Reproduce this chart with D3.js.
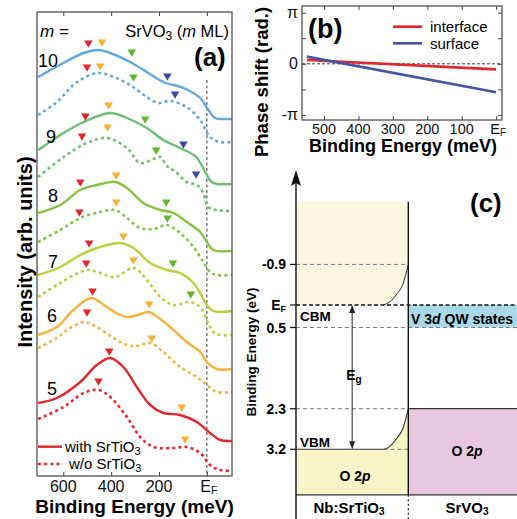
<!DOCTYPE html>
<html>
<head>
<meta charset="utf-8">
<script src="https://cdn.jsdelivr.net/npm/d3@7"></script>
<style>
  body { margin: 0; background: #fff; }
  svg { display: block; font-family: "Liberation Sans", Arial, Helvetica, sans-serif; }
</style>
</head>
<body>
<svg id="fig" width="517" height="519"></svg>
<script>
// ---------- data: panel (a), spectra [binding energy meV, intensity arb.u.] ----------
const layers = [10, 9, 8, 7, 6, 5];
const withSTO = [
  [[705,39.9],[600,41.3],[515,42.3],[453,42.6],[404,42.3],[321,41.4],[251,40.4],[182,39.4],[98,38.8],[28,37.8],[-6,36.6],[-34,35.8],[-60,35.7],[-104,35.7]],
  [[705,32.6],[599,34.3],[515,35.4],[404,36.3],[334,35.8],[251,34.8],[182,33.6],[112,32.8],[45,31.9],[5,30.3],[-20,29.4],[-45,29.2],[-104,29.2]],
  [[705,26.3],[613,27.1],[529,28.6],[460,29.1],[383,29.4],[334,28.8],[265,27.3],[195,26.6],[140,26.3],[84,25.4],[28,24.4],[0,23.4],[-27,22.6],[-104,22.5]],
  [[705,20.1],[613,20.9],[529,22.1],[460,22.8],[362,23.3],[307,22.8],[237,21.3],[167,20.6],[112,20.3],[56,19.3],[28,18.3],[0,17.1],[-27,16.5],[-104,16.5]],
  [[705,14.1],[627,14.9],[558,16.6],[482,17.8],[419,16.9],[363,16.1],[330,15.9],[290,16.1],[244,16.4],[200,15.8],[154,14.9],[84,13.4],[28,12.4],[0,11.4],[-41,10.7],[-104,10.7]],
  [[705,7.3],[627,7.8],[529,9.4],[460,11.1],[404,11.8],[349,10.9],[293,8.9],[237,7.1],[182,6.3],[112,6.1],[42,5.4],[-13,4.3],[-55,3.6],[-104,3.5]]
];
const withoutSTO = [
  [[705,36.1],[627,37.4],[543,39.4],[453,40.3],[390,39.9],[321,39.1],[251,37.9],[203,37.3],[154,37.5],[84,36.9],[28,35.6],[-13,33.9],[-55,33.4],[-104,33.4]],
  [[705,29.9],[599,31.9],[501,33.3],[418,33.8],[334,32.8],[279,31.3],[223,31.7],[195,31.9],[167,31.0],[130,30.4],[84,29.4],[42,29.1],[15,28.3],[-6,26.9],[-41,26.6],[-104,26.5]],
  [[705,23.4],[613,24.6],[529,25.8],[446,26.4],[383,26.6],[334,25.8],[279,24.8],[223,24.7],[167,25.1],[112,24.3],[56,22.9],[15,21.4],[-13,20.4],[-41,20.1],[-104,20.1]],
  [[705,17.9],[613,19.3],[501,20.6],[446,20.3],[383,19.9],[307,20.8],[251,19.6],[195,17.9],[140,17.1],[70,17.4],[28,16.9],[0,15.6],[-27,14.4],[-55,14.1],[-104,14.1]],
  [[705,12.8],[627,13.8],[572,14.8],[508,15.4],[461,14.9],[390,13.8],[334,13.1],[293,13.0],[237,13.3],[182,12.4],[112,10.9],[42,9.9],[0,9.1],[-41,8.4],[-104,8.4]],
  [[705,5.7],[599,6.9],[515,8.3],[453,8.6],[404,7.9],[334,5.9],[279,3.9],[223,2.9],[140,2.8],[84,2.9],[28,2.3],[-13,1.1],[-55,0.6],[-104,0.5]]
];
// peak markers [kind, energy, intensity]
const marksWith = [
  [["r",495,43.2],["o",439,43.3],["g",314,42.3],["b",165,39.9]],
  [["r",508,35.9],["o",411,37.0],["g",258,35.6],["b",98,33.1]],
  [["r",529,29.3],["o",379,30.0],["g",170,27.3]],
  [["r",492,23.2],["o",349,23.9],["g",142,21.2]],
  [["r",478,18.4],["o",241,17.1]],
  [["r",408,12.4],["o",105,6.8]]
];
const marksWithout = [
  [["r",501,40.8],["o",446,40.9],["g",307,39.8],["b",133,38.1]],
  [["r",522,33.9],["o",415,34.8],["g",212,32.5],["b",45,30.1]],
  [["r",533,26.3],["o",379,27.3],["g",165,25.7]],
  [["r",504,21.2],["o",307,21.5],["g",67,18.1]],
  [["r",501,16.3],["o",230,13.7]],
  [["r",453,9.4],["o",91,3.6]]
];
const energyTicksA = [600, 400, 200, 0];
const energyLabelsA = ["600", "400", "200", "EF"];

// ---------- data: panel (b) ----------
const phaseEnergy = [550, 0];
const interfacePhase = [0.23, -0.34];
const surfacePhase = [0.44, -1.75];
const energyTicksB = [500, 400, 300, 200, 100, 0];
const energyLabelsB = ["500", "400", "300", "200", "100", "EF"];
const phaseTicks = [-Math.PI, -Math.PI / 2, 0, Math.PI / 2, Math.PI];
const phaseLabels = ["-π", "", "0", "", "π"];

// ---------- data: panel (c), band diagram (eV) ----------
const levelTicks = [-0.9, 0, 0.5, 2.3, 3.2];
const levelLabels = ["-0.9", "EF", "0.5", "2.3", "3.2"];
const cbBend = [[0, 0], [0.78, 0], [0.85, -0.1], [0.9, -0.25], [0.95, -0.45], [1, -0.9]];
const vbBend = [[0, 3.2], [0.78, 3.2], [0.85, 3.1], [0.9, 2.95], [0.95, 2.75], [1, 2.3]];
const qwBand = [0, 0.5];
const o2pTop = 2.3;

// ---------- styles ----------
const lineColors = ["#62a8dc", "#6dbf71", "#84c341", "#bacf3b", "#f6b23c", "#e3262b"];
const markColors = { r: "#e3262b", o: "#f8b133", g: "#5db82e", b: "#3b4a9c" };
const svg = d3.select("#fig");

// text with sub / italic parts (sub = [font size, drop])
function rich(g, x, y, parts) {
  const t = g.append("text").attr("x", x).attr("y", y);
  let shift = 0;
  parts.forEach(p => {
    const s = typeof p === "string" ? { t: p } : p;
    const ts = t.append("tspan").text(s.t);
    const drop = s.sub ? s.sub[1] : 0;
    if (drop !== shift) { ts.attr("dy", drop - shift); shift = drop; }
    if (s.sub) ts.attr("font-size", s.sub[0]);
    if (s.it) ts.attr("font-style", "italic");
  });
  return t;
}
function ef(label, sub) {
  return label === "EF" ? ["E", { t: "F", sub: sub }] : [label];
}

// ================= panel (a) =================
const xA = d3.scaleLinear().domain([710, -105]).range([37, 232]);
const yA = d3.scaleLinear().domain([0, 46.4]).range([476, 12]);
const pa = svg.append("g");

pa.append("line")
  .attr("x1", xA(0)).attr("x2", xA(0))
  .attr("y1", 80).attr("y2", 476)
  .attr("stroke", "#222").attr("stroke-width", 0.9).attr("stroke-dasharray", "3,2.5");

const lineA = d3.line()
  .x(d => xA(d[0])).y(d => yA(d[1]))
  .curve(d3.curveCatmullRom.alpha(0.5));

layers.forEach((m, i) => {
  pa.append("path").attr("d", lineA(withoutSTO[i]))
    .attr("fill", "none").attr("stroke", lineColors[i])
    .attr("stroke-width", 2.6).attr("stroke-dasharray", "3,3.2");
  pa.append("path").attr("d", lineA(withSTO[i]))
    .attr("fill", "none").attr("stroke", lineColors[i])
    .attr("stroke-width", 2.4);
});

// downward triangles
const tri = (d) => {
  const x = xA(d[1]), y = yA(d[2]);
  return `M${x - 4.3},${y - 3.6}L${x + 4.3},${y - 3.6}L${x},${y + 3.8}Z`;
};
marksWith.concat(marksWithout).forEach(list => {
  pa.selectAll(null).data(list).enter().append("path")
    .attr("d", tri).attr("fill", d => markColors[d[0]]);
});

pa.append("rect").attr("x", 37).attr("y", 12).attr("width", 195).attr("height", 464)
  .attr("fill", "none").attr("stroke", "#444").attr("stroke-width", 1.2);

pa.append("g").attr("transform", "translate(0,476)")
  .call(d3.axisBottom(xA).tickValues(energyTicksA).tickSize(-4).tickSizeOuter(0).tickFormat(""))
  .call(g => g.select(".domain").remove())
  .selectAll("line").attr("stroke", "#444");
pa.append("g").attr("transform", "translate(0,12)")
  .call(d3.axisTop(xA).tickValues(energyTicksA).tickSize(-4).tickSizeOuter(0).tickFormat(""))
  .call(g => g.select(".domain").remove())
  .selectAll("line").attr("stroke", "#444");

energyTicksA.forEach((v, i) => {
  rich(pa, xA(v) + (i === 3 ? 2 : 0), 491.5, ef(energyLabelsA[i], [10.5, 2]))
    .attr("text-anchor", "middle").attr("font-size", 16).attr("fill", "#111");
});

pa.append("text").attr("x", 134.5).attr("y", 512.5)
  .attr("text-anchor", "middle").attr("font-size", 19).attr("font-weight", "bold")
  .text("Binding Energy (meV)");
pa.append("text").attr("transform", "translate(32,252) rotate(-90)")
  .attr("text-anchor", "middle").attr("font-size", 20).attr("font-weight", "bold")
  .text("Intensity (arb. units)");

rich(pa, 40, 37, [{ t: "m", it: true }, " ="]).attr("font-size", 17);
rich(pa, 229, 37, ["SrVO", { t: "3", sub: [12, 3] }, " (", { t: "m", it: true }, " ML)"])
  .attr("font-size", 16.5).attr("text-anchor", "end");
pa.append("text").attr("x", 194).attr("y", 66)
  .attr("font-size", 26).attr("font-weight", "bold").text("(a)");

const mLabelX = [38, 46, 48, 48, 47, 47];
const mLabelY = [66.7, 143.3, 201.7, 268, 321.7, 395];
layers.forEach((m, i) => {
  pa.append("text").attr("x", mLabelX[i]).attr("y", mLabelY[i])
    .attr("font-size", 18).text(m);
});

// legend
pa.append("line").attr("x1", 38).attr("x2", 62).attr("y1", 446.7).attr("y2", 446.7)
  .attr("stroke", lineColors[5]).attr("stroke-width", 2.4);
pa.append("line").attr("x1", 38).attr("x2", 63).attr("y1", 464).attr("y2", 464)
  .attr("stroke", lineColors[5]).attr("stroke-width", 2.6).attr("stroke-dasharray", "3,3.2");
rich(pa, 65, 451.5, ["with SrTiO", { t: "3", sub: [11, 3] }]).attr("font-size", 15);
rich(pa, 69, 468.5, ["w/o SrTiO", { t: "3", sub: [11, 3] }]).attr("font-size", 15);

// ================= panel (b) =================
const xB = d3.scaleLinear().domain([564, -17]).range([302, 502]);
const yB = d3.scaleLinear().domain([-3.45, 3.55]).range([120, 6]);
const pb = svg.append("g");

pb.append("line").attr("x1", 302).attr("x2", 502).attr("y1", yB(0)).attr("y2", yB(0))
  .attr("stroke", "#222").attr("stroke-width", 0.9).attr("stroke-dasharray", "3,2");

const lineB = d3.line().x(d => xB(d[0])).y(d => yB(d[1]));
pb.append("path").attr("d", lineB(phaseEnergy.map((e, i) => [e, interfacePhase[i]])))
  .attr("fill", "none").attr("stroke", "#e3262b").attr("stroke-width", 2.6);
pb.append("path").attr("d", lineB(phaseEnergy.map((e, i) => [e, surfacePhase[i]])))
  .attr("fill", "none").attr("stroke", "#4654a0").attr("stroke-width", 2.6);

pb.append("rect").attr("x", 302).attr("y", 6).attr("width", 200).attr("height", 114)
  .attr("fill", "none").attr("stroke", "#444").attr("stroke-width", 1.2);

[[d3.axisBottom(xB), "translate(0,120)", energyTicksB],
 [d3.axisTop(xB), "translate(0,6)", energyTicksB],
 [d3.axisLeft(yB), "translate(302,0)", phaseTicks],
 [d3.axisRight(yB), "translate(502,0)", phaseTicks]].forEach(([ax, tr, vals]) => {
  pb.append("g").attr("transform", tr)
    .call(ax.tickValues(vals).tickSize(-4).tickSizeOuter(0).tickFormat(""))
    .call(g => g.select(".domain").remove())
    .selectAll("line").attr("stroke", "#444");
});

energyTicksB.forEach((v, i) => {
  rich(pb, xB(v) + (i === 5 ? 2 : 0), 133.5, ef(energyLabelsB[i], [10, 2.5]))
    .attr("text-anchor", "middle").attr("font-size", 14.5).attr("fill", "#111");
});
phaseTicks.forEach((v, i) => {
  if (!phaseLabels[i]) return;
  pb.append("text").attr("x", 298).attr("y", yB(v) + 5.5)
    .attr("text-anchor", "end").attr("font-size", 16).attr("fill", "#111")
    .text(phaseLabels[i]);
});

pb.append("text").attr("x", 403).attr("y", 152)
  .attr("text-anchor", "middle").attr("font-size", 18).attr("font-weight", "bold")
  .text("Binding Energy (meV)");
pb.append("text").attr("transform", "translate(268,82) rotate(-90)")
  .attr("text-anchor", "middle").attr("font-size", 18.5).attr("font-weight", "bold")
  .text("Phase shift (rad.)");
pb.append("text").attr("x", 308).attr("y", 38)
  .attr("font-size", 27).attr("font-weight", "bold").text("(b)");

pb.append("line").attr("x1", 393).attr("x2", 422).attr("y1", 26.7).attr("y2", 26.7)
  .attr("stroke", "#e3262b").attr("stroke-width", 2.6);
pb.append("line").attr("x1", 393).attr("x2", 422).attr("y1", 43.3).attr("y2", 43.3)
  .attr("stroke", "#4654a0").attr("stroke-width", 2.6);
pb.append("text").attr("x", 430).attr("y", 31.5).attr("font-size", 15).text("interface");
pb.append("text").attr("x", 430).attr("y", 48.5).attr("font-size", 15).text("surface");

// ================= panel (c) =================
const xC = d3.scaleLinear().domain([0, 2]).range([296, 520.6]);
const yC = d3.scaleLinear().domain([0, 3.2]).range([305, 449.3]);
const topE = -2.29, botE = 4.21;
const pc = svg.append("g");

// fills
pc.append("path")
  .attr("d", d3.area().x(d => xC(d[0])).y0(yC(topE)).y1(d => yC(d[1])).curve(d3.curveMonotoneX)(cbBend))
  .attr("fill", "#fbf6e0");
pc.append("path")
  .attr("d", d3.area().x(d => xC(d[0])).y0(yC(botE)).y1(d => yC(d[1])).curve(d3.curveMonotoneX)(vbBend))
  .attr("fill", "#f7f5c6");
pc.append("rect").attr("x", xC(1)).attr("y", yC(qwBand[0]))
  .attr("width", xC(2) - xC(1)).attr("height", yC(qwBand[1]) - yC(qwBand[0]))
  .attr("fill", "#a9d9e9");
pc.append("rect").attr("x", xC(1)).attr("y", yC(o2pTop))
  .attr("width", xC(2) - xC(1)).attr("height", yC(botE) - yC(o2pTop))
  .attr("fill", "#e8c8df");

// level lines
const hl = (e, a, b, stroke, dash, w) => pc.append("line")
  .attr("x1", xC(a)).attr("x2", xC(b)).attr("y1", yC(e)).attr("y2", yC(e))
  .attr("stroke", stroke).attr("stroke-width", w).attr("stroke-dasharray", dash);
hl(levelTicks[0], 0, 1, "#777", "4,3", 1);
hl(levelTicks[2], 0, 2, "#777", "4,3", 1);
hl(levelTicks[3], 0, 1, "#777", "4,3", 1);
hl(levelTicks[4], 0.78, 1, "#777", "4,3", 1);
hl(levelTicks[1], 0, 2, "#111", "4,2.5", 1.4);
hl(o2pTop, 1, 2, "#333", null, 1.2);
hl(botE, 0, 2, "#333", null, 1.2);

const bendLine = d3.line().x(d => xC(d[0])).y(d => yC(d[1])).curve(d3.curveMonotoneX);
pc.append("path").attr("d", bendLine(cbBend.slice(1)))
  .attr("fill", "none").attr("stroke", "#111").attr("stroke-width", 0.9);
pc.append("path").attr("d", bendLine(vbBend))
  .attr("fill", "none").attr("stroke", "#333").attr("stroke-width", 1.1);

// interface
pc.append("line").attr("x1", xC(1)).attr("x2", xC(1)).attr("y1", yC(topE)).attr("y2", yC(botE))
  .attr("stroke", "#111").attr("stroke-width", 1.4);
pc.append("line").attr("x1", xC(1)).attr("x2", xC(1)).attr("y1", yC(botE)).attr("y2", 519)
  .attr("stroke", "#111").attr("stroke-width", 1.2).attr("stroke-dasharray", "2,2.5");

// energy axis with arrow
pc.append("line").attr("x1", xC(0)).attr("x2", xC(0)).attr("y1", 519).attr("y2", 182)
  .attr("stroke", "#111").attr("stroke-width", 1.4);
pc.append("path").attr("d", `M${xC(0)},170L${xC(0) + 5},186L${xC(0)},183L${xC(0) - 5},186Z`)
  .attr("fill", "#111");
levelTicks.forEach((v, i) => {
  pc.append("line").attr("x1", xC(0) - 6).attr("x2", xC(0)).attr("y1", yC(v)).attr("y2", yC(v))
    .attr("stroke", "#111").attr("stroke-width", 1.2);
  rich(pc, 286, yC(v) + 5, ef(levelLabels[i], [9, 2]))
    .attr("text-anchor", "end").attr("font-size", 14).attr("font-weight", "bold");
});
pc.append("text").attr("transform", "translate(256,352) rotate(-90)")
  .attr("text-anchor", "middle").attr("font-size", 13.5).attr("font-weight", "bold")
  .text("Binding Energy (eV)");

// band gap arrow
const xg = xC(0.5);
pc.append("line").attr("x1", xg).attr("x2", xg).attr("y1", yC(0) + 6).attr("y2", yC(3.2) - 6)
  .attr("stroke", "#222").attr("stroke-width", 1);
pc.append("path").attr("d", `M${xg},${yC(0)}L${xg + 3},${yC(0) + 8}L${xg - 3},${yC(0) + 8}Z`).attr("fill", "#222");
pc.append("path").attr("d", `M${xg},${yC(3.2)}L${xg + 3},${yC(3.2) - 8}L${xg - 3},${yC(3.2) - 8}Z`).attr("fill", "#222");
rich(pc, xg - 6, 380, ["E", { t: "g", sub: [10, 3] }]).attr("font-size", 14).attr("font-weight", "bold");

// labels
pc.append("text").attr("x", 300).attr("y", 321).attr("font-size", 13.5).attr("font-weight", "bold").text("CBM");
pc.append("text").attr("x", 300).attr("y", 446.5).attr("font-size", 13.5).attr("font-weight", "bold").text("VBM");
rich(pc, 462, 323.5, ["V 3", { t: "d", it: true }, " QW states"])
  .attr("text-anchor", "middle").attr("font-size", 14).attr("font-weight", "bold");
rich(pc, 467, 456, ["O 2", { t: "p", it: true }])
  .attr("text-anchor", "middle").attr("font-size", 14).attr("font-weight", "bold");
rich(pc, 355, 481, ["O 2", { t: "p", it: true }])
  .attr("text-anchor", "middle").attr("font-size", 14).attr("font-weight", "bold");
rich(pc, 349, 513, ["Nb:SrTiO", { t: "3", sub: [10, 2] }])
  .attr("text-anchor", "middle").attr("font-size", 15).attr("font-weight", "bold");
rich(pc, 467, 513, ["SrVO", { t: "3", sub: [10, 2] }])
  .attr("text-anchor", "middle").attr("font-size", 15).attr("font-weight", "bold");
pc.append("text").attr("x", 470).attr("y", 212)
  .attr("font-size", 26).attr("font-weight", "bold").text("(c)");
</script>
</body>
</html>
